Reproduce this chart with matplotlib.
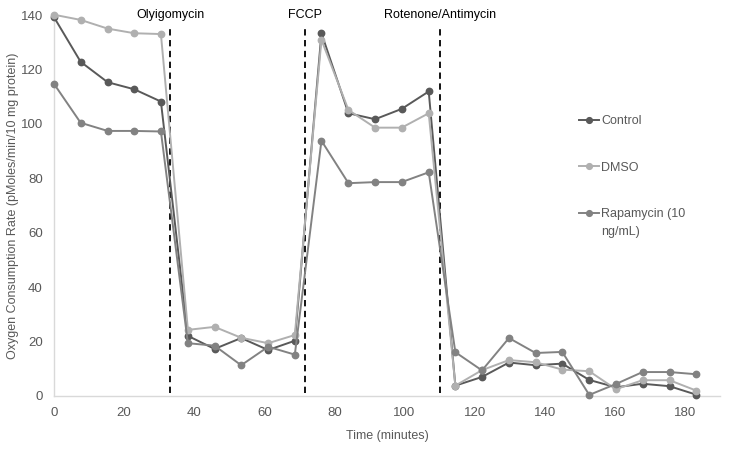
import matplotlib
matplotlib.use("Agg")
import matplotlib.pyplot as plt

plt.rcParams['font.family'] = ['Liberation Sans', 'DejaVu Sans']

time_min = [0, 7.6, 15.3, 22.9, 30.5, 38.2, 45.8, 53.4, 61.1, 68.7,
            76.3, 84.0, 91.6, 99.2, 106.9, 114.5, 122.1, 129.8, 137.4,
            145.0, 152.7, 160.3, 167.9, 175.6, 183.2]

control = [139.2, 122.8, 115.3, 112.7, 108.2, 22.1, 17.3, 21.3, 16.9, 20.3,
           133.3, 103.9, 101.7, 105.5, 111.9, 3.8, 7.0, 12.3, 11.3, 11.9,
           5.9, 3.2, 4.5, 3.6, 0.5]
dmso = [140.1, 138.2, 135.0, 133.3, 133.0, 24.3, 25.4, 21.4, 19.4, 22.4,
        130.9, 105.1, 98.6, 98.6, 103.9, 3.8, 9.5, 13.2, 12.4, 9.7,
        9.1, 2.5, 5.8, 5.8, 2.0]
rapamycin = [114.7, 100.4, 97.4, 97.4, 97.2, 19.4, 18.5, 11.3, 18.1, 15.2,
             93.8, 78.2, 78.6, 78.6, 82.2, 16.1, 9.4, 21.3, 15.8, 16.2,
             0.4, 4.4, 8.8, 8.8, 8.0]

series_names = ['Control', 'DMSO', 'Rapamycin (10']
rapamycin_name_line2 = 'ng/mL)'
series_colors = ['#595959', '#b0b0b0', '#828282']

injection_times = [33.1, 71.5, 110.1]
injection_labels = ['Olyigomycin', 'FCCP', 'Rotenone/Antimycin']

fig = plt.figure(figsize=(7.29, 4.5), dpi=100)
ax = fig.add_axes([54 / 729, 1 - 396 / 450, (720 - 54) / 729, (396 - 15) / 450])

for vals, name, col in zip([control, dmso, rapamycin], series_names, series_colors):
    ax.plot(time_min, vals, color=col, lw=1.4, marker='o', markersize=4.6,
            label=name, zorder=3, clip_on=False)

for t, lab in zip(injection_times, injection_labels):
    ax.plot([t, t], [1.0, 136.5], color='black', lw=1.3,
            linestyle=(0, (3.5, 2.5)), zorder=2)
    ax.text(t, 140, lab, ha='center', va='center', fontsize=9, color='black')

ax.set_xlim(0, 190)
ax.set_ylim(0, 140)
ax.set_xticks(range(0, 181, 20))
ax.set_yticks(range(0, 141, 20))
ax.tick_params(length=0, labelsize=9.5, colors='#595959')
ax.tick_params(axis='x', pad=8)
ax.tick_params(axis='y', pad=8)
for s in ['top', 'right']:
    ax.spines[s].set_visible(False)
for s in ['left', 'bottom']:
    ax.spines[s].set_color('#d9d9d9')
    ax.spines[s].set_linewidth(1.0)

ax.set_xlabel('Time (minutes)', fontsize=9, color='#595959', labelpad=8)
ax.set_ylabel('Oxygen Consumption Rate (pMoles/min/10 mg protein)', fontsize=9,
              color='#595959', labelpad=1)

leg = ax.legend(loc='upper left', bbox_to_anchor=(568 / 729, 1 - 104 / 450),
                bbox_transform=fig.transFigure, frameon=False, fontsize=9,
                handlelength=1.6, handletextpad=0.15, labelspacing=2.75,
                markerscale=0.9)
for txt in leg.get_texts():
    txt.set_color('#595959')

fig.canvas.draw()
last_txt = leg.get_texts()[-1]
bb = last_txt.get_window_extent()
fig.text(bb.x0 / fig.bbox.width, (bb.y0 - 6) / fig.bbox.height, rapamycin_name_line2,
         fontsize=9, color='#595959', ha='left', va='top')

fig.savefig('out.png', dpi=100)
